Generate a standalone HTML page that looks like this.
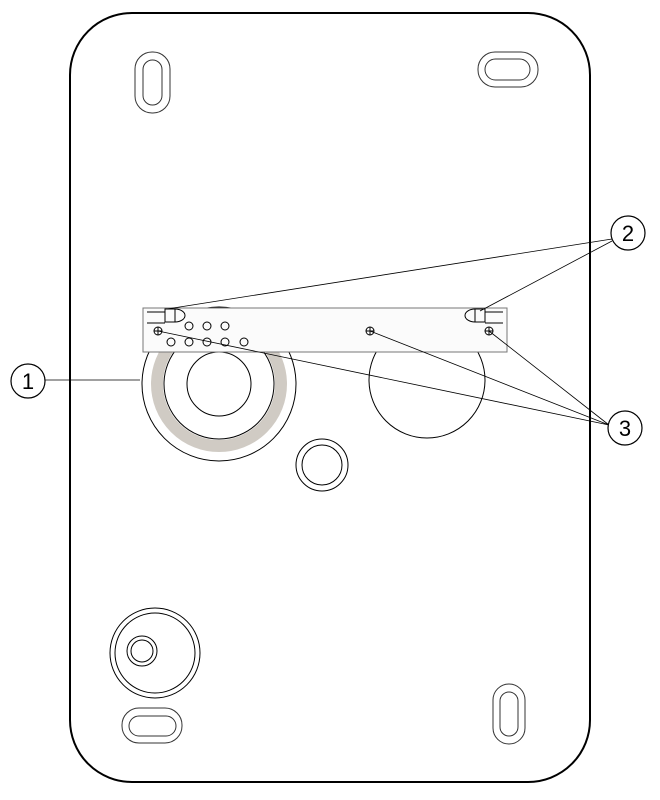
<!DOCTYPE html>
<html><head><style>body{margin:0;background:#fff}svg{display:block}text{font-family:"Liberation Sans",Arial,sans-serif}</style></head><body>
<svg width="660" height="800" viewBox="0 0 660 800" xmlns="http://www.w3.org/2000/svg" fill="none" stroke="#000">
<rect x="70" y="13" width="520" height="769" rx="62" stroke-width="2"/>
<g stroke-width="1" stroke="#333">
<rect x="135" y="52" width="35" height="61" rx="17"/>
<rect x="143" y="60" width="19" height="45" rx="9.5"/>
<rect x="478" y="52" width="60" height="35" rx="17"/>
<rect x="485" y="59" width="45" height="21" rx="10.5"/>
<rect x="122" y="708" width="60" height="35" rx="17"/>
<rect x="129" y="716" width="47" height="20" rx="10"/>
<rect x="493" y="684" width="32" height="60" rx="16"/>
<rect x="500" y="692" width="18" height="44" rx="9"/>
</g>
<circle cx="219" cy="384" r="77" stroke-width="1"/>
<circle cx="219" cy="384" r="62" stroke="#d0cbc4" stroke-width="12"/>
<circle cx="219" cy="384" r="55" stroke-width="1"/>
<circle cx="219" cy="384" r="32" stroke-width="1"/>
<circle cx="427" cy="380" r="58" stroke-width="1"/>
<circle cx="322" cy="465" r="26" stroke-width="1"/>
<circle cx="322" cy="465" r="20" stroke-width="1"/>
<circle cx="155" cy="653" r="45" stroke-width="1"/>
<circle cx="155" cy="653" r="40" stroke-width="1"/>
<circle cx="142" cy="651" r="15" stroke-width="1"/>
<circle cx="142" cy="651" r="11" stroke-width="1"/>
<rect x="143" y="308" width="364" height="44" fill="#fbfbfb" stroke="#777" stroke-width="1"/>
<g stroke-width="1">
<path d="M147 312H165M147 323H165"/>
<rect x="165" y="309" width="10" height="13" fill="#fbfbfb"/>
<path d="M175 309A10 6.5 0 0 1 175 322"/>
<path d="M485 312H503M485 323H503"/>
<rect x="475" y="309" width="10" height="13" fill="#fbfbfb"/>
<path d="M475 309A10 6.5 0 0 0 475 322"/>
<circle cx="189" cy="326" r="4"/><circle cx="207" cy="326" r="4"/><circle cx="225" cy="326" r="4"/>
<circle cx="171" cy="342" r="4"/><circle cx="189" cy="342" r="4"/><circle cx="207" cy="342" r="4"/><circle cx="225" cy="342" r="4"/><circle cx="244" cy="342" r="4"/>
<circle cx="158" cy="331" r="4"/><path d="M154 331H162M158 327V335"/>
<circle cx="370" cy="331" r="4"/><path d="M366 331H374M370 327V335"/>
<circle cx="489" cy="331" r="4"/><path d="M485 331H493M489 327V335"/>
</g>
<g stroke-width="0.8">
<path d="M45 380H140"/>
<path d="M612 239L167 309M612 241L480 311"/>
<path d="M609 425L158 331M609 425L370 331M609 425L489 331"/>
</g>
<g stroke-width="1.2" fill="#fff">
<circle cx="28" cy="381" r="17"/><circle cx="628" cy="233" r="17"/><circle cx="625" cy="428" r="17"/>
</g>
<g fill="#000" stroke="none" font-size="22" text-anchor="middle">
<text x="28" y="389">1</text><text x="628" y="241">2</text><text x="625" y="436">3</text>
</g>
</svg>
</body></html>
